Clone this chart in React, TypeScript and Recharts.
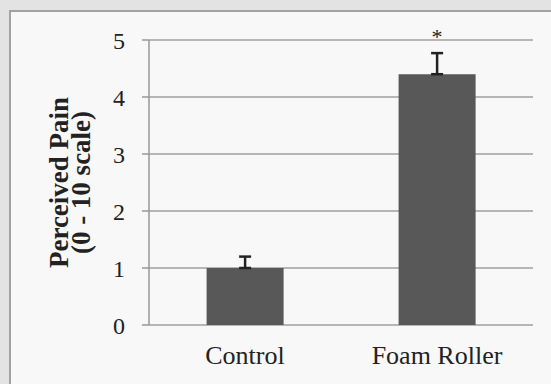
import React from 'react';
import { BarChart, Bar, XAxis, YAxis, CartesianGrid, ErrorBar, LabelList } from 'recharts';

const categories = ['Control', 'Foam Roller'];
const meanPain = [1.0, 4.4];
const errorUpper = [0.2, 0.37];
const significance = ['', '*'];
const yTicks = [0, 1, 2, 3, 4, 5];
const edgeTicks = [0, 1, 2];

const data = categories.map((name, i) => ({
  name,
  pain: meanPain[i],
  err: [0, errorUpper[i]],
  sig: significance[i],
}));

const FONT = '"Liberation Serif", "Times New Roman", serif';

const YTitle = (props: any) => {
  const vb = props.viewBox || { x: 0, y: 40, width: 149, height: 285 };
  const cy = vb.y + vb.height / 2;
  const x1 = vb.x + 68;
  const x2 = vb.x + 90;
  const common = {
    textAnchor: 'middle' as const,
    fontWeight: 'bold',
    fontSize: 27,
    fontFamily: FONT,
    fill: '#222',
  };
  return (
    <g>
      <text x={x1} y={cy} transform={`rotate(-90 ${x1} ${cy})`} {...common}>
        Perceived Pain
      </text>
      <text x={x2} y={cy} transform={`rotate(-90 ${x2} ${cy})`} {...common}>
        (0 - 10 scale)
      </text>
    </g>
  );
};

export default function App() {
  return (
    <div style={{ position: 'relative', width: 551, height: 384, background: '#e3e3e3', overflow: 'hidden', fontFamily: FONT }}>
      <style>{`body{margin:0}`}</style>
      <div
        style={{
          position: 'absolute',
          left: 9,
          top: 10,
          width: 560,
          height: 400,
          boxSizing: 'border-box',
          borderLeft: '2px solid #a2a2a2',
          borderTop: '2px solid #a2a2a2',
          background: '#f8f8f8',
        }}
      />
      <div style={{ position: 'absolute', left: 0, top: 0 }}>
        <BarChart
          width={551}
          height={384}
          data={data}
          margin={{ top: 40, right: 18, bottom: 0, left: 0 }}
          barCategoryGap="30%"
        >
          <CartesianGrid vertical={false} stroke="#a0a0a0" strokeWidth={1.5} xAxisId="cat" />
          <XAxis
            xAxisId="edges"
            type="number"
            domain={[0, 2]}
            allowDataOverflow
            ticks={edgeTicks}
            tick={false}
            tickSize={7}
            height={0}
            axisLine={{ stroke: '#999', strokeWidth: 1.5 }}
            tickLine={{ stroke: '#999', strokeWidth: 1.5 }}
          />
          <XAxis
            xAxisId="cat"
            dataKey="name"
            interval={0}
            tickLine={false}
            axisLine={false}
            tickSize={0}
            tickMargin={21}
            height={59}
            tick={{ fontSize: 26, fill: '#222', fontFamily: FONT }}
          />
          <YAxis
            domain={[0, 5]}
            ticks={yTicks}
            interval={0}
            width={149}
            tickSize={7}
            tickMargin={17}
            axisLine={{ stroke: '#999', strokeWidth: 1.5 }}
            tickLine={{ stroke: '#999', strokeWidth: 1.5 }}
            tick={{ fontSize: 24, fill: '#222', fontFamily: FONT }}
            label={<YTitle />}
          />
          <Bar dataKey="pain" xAxisId="cat" fill="#585858" isAnimationActive={false}>
            <ErrorBar dataKey="err" direction="y" width={6} stroke="#222" strokeWidth={2.5} isAnimationActive={false} />
            <LabelList dataKey="sig" position="top" offset={30} style={{ fontSize: 22, fill: '#222', fontFamily: FONT }} />
          </Bar>
        </BarChart>
      </div>
    </div>
  );
}
